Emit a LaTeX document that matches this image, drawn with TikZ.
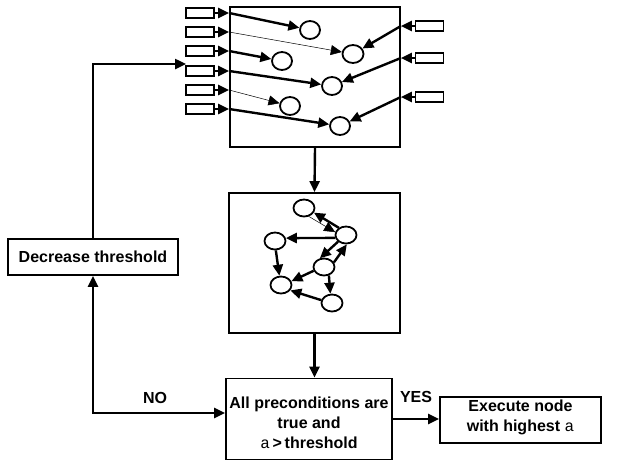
\documentclass[tikz,border=0pt]{standalone}
\usepackage{fontspec}
\setmainfont{Liberation Sans}
\newfontfamily\monoa{Liberation Mono}
\usetikzlibrary{arrows.meta,shapes.geometric,calc}

\begin{document}
\begin{tikzpicture}[x=1pt,y=-1pt,
  tip/.tip={Triangle[length=11pt,width=10pt]},
  frame/.style={draw,line width=1.8pt,rectangle,inner sep=0pt},
  tag/.style={draw,line width=1.6pt,rectangle,minimum width=28pt,minimum height=10pt,inner sep=0pt},
  dot/.style={draw,line width=1.8pt,ellipse,minimum width=20pt,minimum height=18pt,inner sep=0pt},
  link/.style={line width=2.4pt,-tip},
  faint/.style={line width=0.5pt,-tip},
  txt/.style={font=\bfseries\fontsize{16}{20}\selectfont,align=center}
]
\useasboundingbox (0,0) rectangle (617,461);

% --- main boxes ---
\node[frame,minimum width=170pt,minimum height=140pt] (top) at (315,77) {};
\node[frame,minimum width=171pt,minimum height=140pt] (mid) at (314.5,263) {};
\node[frame,minimum width=166pt,minimum height=81pt] (bot) at (309,419) {};
\node[txt] (bottxt) at (309,423)
  {All preconditions are\\true and\\{\monoa\mdseries a}\,>\,threshold};
\node[frame,txt,minimum width=170pt,minimum height=36pt] (dec) at (93,257) {Decrease threshold};
\node[frame,minimum width=161pt,minimum height=46pt] (exe) at (520.5,420) {};
\node[txt] (exetxt) at (520.5,417) {Execute node\\with highest {\monoa\mdseries a}};

% --- input tags on the left ---
\foreach \i/\y in {1/13,2/32,3/51,4/71,5/90,6/109}{
  \node[tag] (l\i) at (200,\y) {};
  \coordinate (e\i) at (l\i -| top.west);
  \draw[link] (l\i) -- (e\i);
}
% --- input tags on the right ---
\foreach \i/\y in {1/26,2/58,3/97}{
  \node[tag] (r\i) at (429.5,\y) {};
  \coordinate (f\i) at (r\i -| top.east);
  \draw[link] (r\i) -- (f\i);
}

% --- nodes in the upper box ---
\node[dot] (c1) at (310,30) {};
\node[dot,minimum width=21pt] (c2) at (353,54) {};
\node[dot] (c3) at (282,61) {};
\node[dot] (c4) at (332,86) {};
\node[dot] (c5) at (290,106) {};
\node[dot] (c6) at (340,126) {};

\draw[link]  (e1) -- (c1);
\draw[faint] (e2) -- (c2);
\draw[link]  (e3) -- (c3);
\draw[link]  (e4) -- (c4);
\draw[faint] (e5) -- (c5);
\draw[link]  (e6) -- (c6);
\draw[link]  (f1) -- (c2);
\draw[link]  (f2) -- (c4);
\draw[link]  (f3) -- (c6);

% --- network in the middle box ---
\node[dot,minimum width=21pt,minimum height=17pt] (m1) at (304,208) {};
\node[dot,minimum width=21pt,minimum height=17pt] (m2) at (346,235) {};
\node[dot,minimum width=21pt,minimum height=17pt] (m3) at (275,241) {};
\node[dot,minimum width=21pt,minimum height=17pt] (m4) at (324,267) {};
\node[dot,minimum width=21pt,minimum height=17pt] (m5) at (281,285) {};
\node[dot,minimum width=21pt,minimum height=17pt] (m6) at (332,303) {};

\draw[link]  (m2.135) -- (m1.-25);
\draw[faint] (m1.-60) -- (m2.165);
\draw[link]  (m2.195) -- (m3.15);
\draw[link]  (m2.220) -- (m4.115);
\draw[link]  (m4.25)  -- (m2.275);
\draw[link]  (m3.275) -- (m5.100);
\draw[link]  (m4.200) -- (m5.20);
\draw[link]  (m4.300) -- (m6.100);
\draw[link]  (m6.165) -- (m5.-30);

% --- flow between boxes ---
\draw[link] (top.south) -- (mid.north);
\draw[link] (mid.south) -- (mid.south |- bot.north);
\draw[link] (bot.east) -- (bot.east -| exe.west);
\node[txt] (yes) at (416,397) {YES};

\coordinate (ny) at ([yshift=6pt]bot.west);
\coordinate (tin) at (186,64);
\draw[line width=2.4pt,tip-tip] (dec.south) |- (ny);
\node[txt] (no) at (155,398) {NO};
\draw[link] (dec.north) |- (tin);
\end{tikzpicture}
\end{document}
